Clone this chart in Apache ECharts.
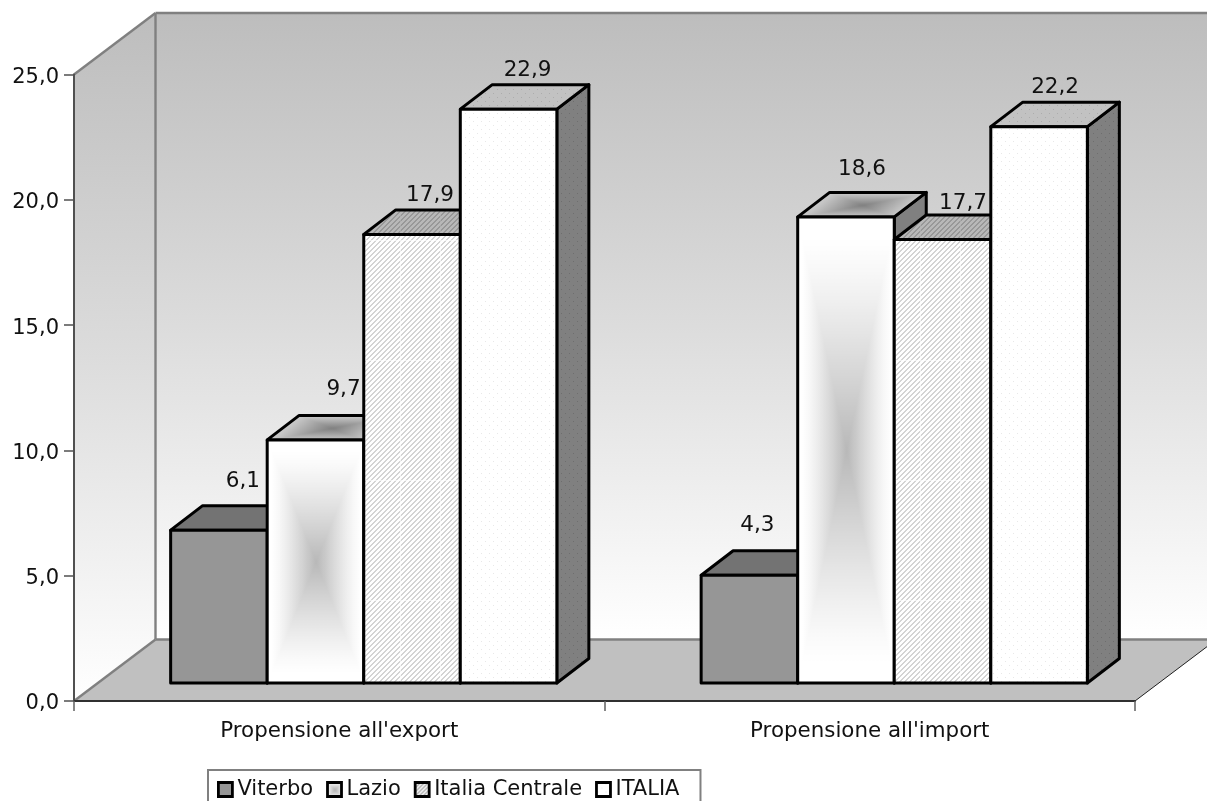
<!DOCTYPE html>
<html>
<head>
<meta charset="utf-8">
<title>Propensione all'export e all'import</title>
<style>
html,body{margin:0;padding:0;background:#fff;overflow:hidden}
#chart{width:1207px;height:801px}
</style>
<script src="https://cdn.jsdelivr.net/npm/echarts@6/dist/echarts.min.js"></script>
</head>
<body>
<div id="chart"></div>
<script>
// Values
const categories = ["Propensione all'export", "Propensione all'import"];
const viterbo = [6.1, 4.3];
const lazio = [9.7, 18.6];
const italiaCentrale = [17.9, 17.7];
const italia = [22.9, 22.2];
const yTicks = { min: 0, max: 25, interval: 5 };

// Label nudges, [right, up] from the back edge of each bar's top face
const labelNudges = {
  Viterbo: [[24, 24], [8, 25]],
  Lazio: [[28, 26], [16, 23]],
  'Italia Centrale': [[18, 15], [20.5, 12]],
  ITALIA: [[19, 14], [16, 15]]
};

// 3D projection of the plot box
const WALL_DX = 81.5, WALL_DY = -61.5;
const BAR_SHIFT_X = 24.5, BAR_SHIFT_Y = -18;
const BAR_DX = 32, BAR_DY = -24.5;
const BAR_SHARE = 0.182;
const FONT = '"DejaVu Sans", Verdana, sans-serif';

function paint(w, h, fn) {
  const c = document.createElement('canvas');
  c.width = w; c.height = h;
  const ctx = c.getContext('2d');
  const img = ctx.createImageData(w, h);
  for (let y = 0; y < h; y++) for (let x = 0; x < w; x++) {
    const g = fn(x, y), i = (y * w + x) * 4;
    img.data[i] = img.data[i + 1] = img.data[i + 2] = g;
    img.data[i + 3] = 255;
  }
  ctx.putImageData(img, 0, 0);
  return c;
}
const tile = (c, x, y) => ({ image: c, repeat: 'repeat', x: x || 0, y: y || 0 });

// Diagonal hatching with faint tile seams
const hatch = (line, back, seam) => paint(40, 120, (x, y) => {
  const on = (x + y) % 5 < 2;
  if (x === 0 || y === 0) return on ? seam : back;
  return on ? line : back;
});
// Staggered dot grain
const dots = (dot, back) => paint(8, 8, (x, y) =>
  (x === 1 && y === 1) || (x === 5 && y === 5) ? dot : back);

const hatchFront = hatch(212, 255, 240), hatchTop = hatch(152, 184, 170);
const hatchKey = paint(4, 4, (x, y) => ((x + y) % 4 < 2 ? 178 : 245));
const dotsFront = dots(232, 255), dotsTop = dots(172, 194), dotsSide = dots(110, 128);

// Rectangular path gradient: grey core fading out to the rim; shear skews it for top faces
const cache = {};
function pathGradient(w, h, shear, core, rim, pow) {
  w = Math.max(2, Math.round(w)); h = Math.max(2, Math.round(h));
  const key = [w, h, shear, core, rim].join();
  if (cache[key]) return cache[key];
  const total = w + Math.round(shear);
  return cache[key] = paint(total, h, (x, y) => {
    const off = shear * (1 - y / h);
    const u = Math.abs((x - off) / w * 2 - 1), v = Math.abs(y / h * 2 - 1);
    const t = Math.min(1, Math.max(u, v) / 0.92);
    return rim + (core - rim) * Math.pow(1 - t, pow);
  });
}
const legendLazio = pathGradient(14, 14, 0, 178, 240, 1);

const seriesLooks = {
  Viterbo: () => ({ front: '#969696', top: '#737373', side: '#5c5c5c' }),
  Lazio: (x, y, w, h) => ({
    front: { image: pathGradient(w, h, 0, 184, 255, 1.25), repeat: 'no-repeat', x, y },
    top: { image: pathGradient(w, -BAR_DY, BAR_DX, 128, 198, 1), repeat: 'no-repeat', x, y: y + BAR_DY },
    side: '#808080'
  }),
  'Italia Centrale': () => ({ front: tile(hatchFront), top: tile(hatchTop), side: '#808080' }),
  ITALIA: () => ({ front: tile(dotsFront), top: tile(dotsTop), side: tile(dotsSide) })
};

const decimal = v => v.toFixed(1).replace('.', ',');

function barSeries(name, values, index) {
  return {
    type: 'custom',
    name,
    z: 2,
    coordinateSystem: 'cartesian2d',
    data: values.map((v, i) => [i, v]),
    encode: { x: 0, y: 1 },
    renderItem(params, api) {
      const cat = api.value(0), val = api.value(1);
      const band = api.size([1, 0])[0];
      const bw = band * BAR_SHARE;
      const top = api.coord([cat, val]);
      const base = api.coord([cat, 0]);
      const x = top[0] + BAR_SHIFT_X - 2 * bw + index * bw;
      const yT = top[1] + BAR_SHIFT_Y, yB = base[1] + BAR_SHIFT_Y;
      const look = seriesLooks[name](x, yT, bw, yB - yT);
      const edge = { stroke: '#000', lineWidth: 3, lineJoin: 'round' };
      const poly = (points, fill) => ({
        type: 'polygon', shape: { points }, style: Object.assign({ fill }, edge)
      });
      const nudge = labelNudges[name][cat];
      return {
        type: 'group',
        children: [
          poly([[x + bw, yT], [x + bw + BAR_DX, yT + BAR_DY], [x + bw + BAR_DX, yB + BAR_DY], [x + bw, yB]], look.side),
          poly([[x, yT], [x + BAR_DX, yT + BAR_DY], [x + bw + BAR_DX, yT + BAR_DY], [x + bw, yT]], look.top),
          poly([[x, yT], [x + bw, yT], [x + bw, yB], [x, yB]], look.front),
          {
            type: 'text', z2: 50,
            style: {
              text: decimal(val),
              x: x + bw / 2 + nudge[0],
              y: yT + BAR_DY - nudge[1],
              align: 'center', verticalAlign: 'middle',
              fill: '#111', font: '21.5px ' + FONT
            }
          }
        ]
      };
    }
  };
}

// Back wall, side wall and floor of the plot box
const shellSeries = {
  type: 'custom',
  z: 1,
  silent: true,
  coordinateSystem: 'cartesian2d',
  data: [[0, 0]],
  encode: { x: 0, y: 1 },
  renderItem(params) {
    const { x, y, width: w, height: h } = params.coordSys;
    const b = y + h, r = x + w;
    const fade = { type: 'linear', x: 0, y: 0, x2: 0, y2: 1,
      colorStops: [{ offset: 0, color: '#bdbdbd' }, { offset: 0.5, color: '#dcdcdc' }, { offset: 1, color: '#ffffff' }] };
    const grey = { stroke: '#808080', lineWidth: 2.4 };
    const line = (x1, y1, x2, y2, style) => ({ type: 'line', shape: { x1, y1, x2, y2 }, style });
    return {
      type: 'group',
      children: [
        { type: 'polygon', shape: { points: [[x + WALL_DX, y + WALL_DY], [r + WALL_DX, y + WALL_DY], [r + WALL_DX, b + WALL_DY], [x + WALL_DX, b + WALL_DY]] }, style: { fill: fade } },
        { type: 'polygon', shape: { points: [[x, y], [x + WALL_DX, y + WALL_DY], [x + WALL_DX, b + WALL_DY], [x, b]] }, style: { fill: fade } },
        { type: 'polygon', shape: { points: [[x, b], [x + WALL_DX, b + WALL_DY], [r + WALL_DX, b + WALL_DY], [r, b]] }, style: { fill: '#c0c0c0' } },
        line(x, y, x + WALL_DX, y + WALL_DY, grey),
        line(x + WALL_DX, y + WALL_DY, r + WALL_DX, y + WALL_DY, grey),
        line(x + WALL_DX, y + WALL_DY, x + WALL_DX, b + WALL_DY, grey),
        line(x + WALL_DX, b + WALL_DY, r + WALL_DX, b + WALL_DY, grey),
        line(x, b, x + WALL_DX, b + WALL_DY, grey),
        line(r, b, r + WALL_DX, b + WALL_DY, { stroke: '#202020', lineWidth: 1 })
      ]
    };
  }
};

const legendMark = fill => ({ color: fill, borderColor: '#000', borderWidth: 2.8 });

const chart = echarts.init(document.getElementById('chart'), null, { renderer: 'canvas' });
chart.setOption({
  animation: false,
  backgroundColor: '#fff',
  grid: { left: 74, right: 72, top: 74.5, bottom: 100, containLabel: false },
  xAxis: {
    type: 'category',
    data: categories,
    z: 5,
    axisLine: { lineStyle: { color: '#303030', width: 2 } },
    axisTick: { show: true, length: 10, lineStyle: { color: '#606060', width: 1.5 } },
    axisLabel: { color: '#111', fontSize: 21.4, fontFamily: FONT, margin: 20 }
  },
  yAxis: {
    type: 'value',
    min: yTicks.min, max: yTicks.max, interval: yTicks.interval,
    z: 5,
    splitLine: { show: false },
    axisLine: { show: true, lineStyle: { color: '#505050', width: 2 } },
    axisTick: { show: true, length: 10, lineStyle: { color: '#505050', width: 1.5 } },
    axisLabel: {
      margin: 15,
      formatter: v => '{tick|' + decimal(v) + '}',
      rich: { tick: { color: '#111', fontSize: 21, fontFamily: FONT, padding: [6, 0, 0, 0] } }
    }
  },
  legend: {
    left: 208, top: 770,
    orient: 'horizontal',
    selectedMode: false,
    itemWidth: 14, itemHeight: 14, itemGap: 13,
    padding: [9, 21, 30, 9],
    borderColor: '#808080', borderWidth: 2, backgroundColor: '#fff',
    textStyle: { color: '#111', fontSize: 21, fontFamily: FONT },
    data: [
      { name: 'Viterbo', icon: 'rect', itemStyle: legendMark('#969696') },
      { name: 'Lazio', icon: 'rect', itemStyle: legendMark({ image: legendLazio, repeat: 'repeat', x: 0, y: 0 }) },
      { name: 'Italia Centrale', icon: 'rect', itemStyle: legendMark({ image: hatchKey, repeat: 'repeat' }) },
      { name: 'ITALIA', icon: 'rect', itemStyle: legendMark({ image: dotsFront, repeat: 'repeat' }) }
    ]
  },
  series: [
    shellSeries,
    barSeries('Viterbo', viterbo, 0),
    barSeries('Lazio', lazio, 1),
    barSeries('Italia Centrale', italiaCentrale, 2),
    barSeries('ITALIA', italia, 3)
  ]
});
</script>
</body>
</html>
